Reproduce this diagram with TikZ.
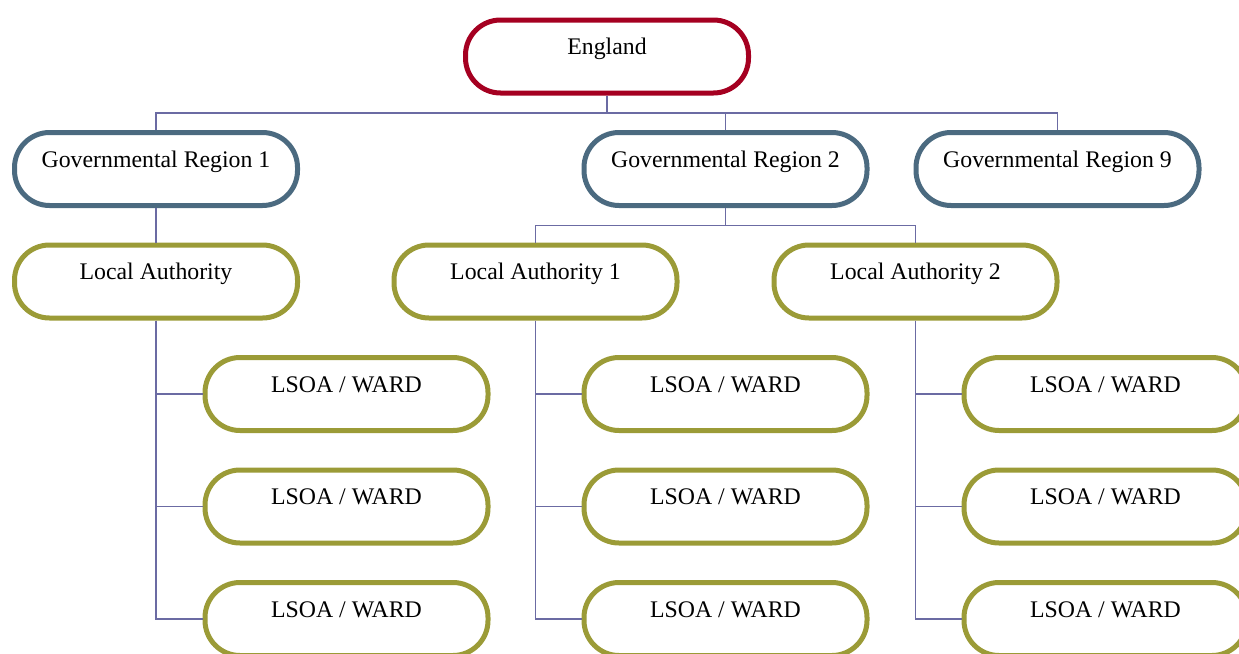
\documentclass[tikz,border=0pt]{standalone}
\usepackage{fontspec}
\setmainfont{Liberation Serif}
\usetikzlibrary{calc}
\definecolor{engred}{HTML}{A50021}
\definecolor{regblue}{HTML}{4B6A80}
\definecolor{laolive}{HTML}{9B9B37}
\definecolor{linkpurple}{HTML}{6B6BA3}

\begin{document}
\begin{tikzpicture}[x=1pt,y=1pt,node distance=112.5pt,
        box/.style={draw,line width=5pt,fill=white,rounded corners=35pt,minimum width=283pt,minimum height=73pt,
            text height=16pt,text depth=20pt,font=\fontsize{23.8}{28}\selectfont},
        nation/.style={box,draw=engred},
        region/.style={box,draw=regblue},
        auth/.style={box,draw=laolive},
        ward/.style={box,draw=laolive},
        link/.style={draw=linkpurple,line width=1.5pt}]
        \useasboundingbox (0,0) rectangle (1239,-653);

        \node[nation] (eng) at (607,-56.5) {England};
        \node[region] (gr1) [below of=eng,xshift=-451pt] {Governmental Region 1};
        \node[region] (gr2) [below of=eng,xshift=118.5pt] {Governmental Region 2};
        \node[region] (gr9) [below of=eng,xshift=450.5pt] {Governmental Region 9};
        \node[auth] (la) [below of=gr1] {Local Authority};
        \node[auth] (la1) [below of=gr2,xshift=-190pt] {Local Authority 1};
        \node[auth] (la2) [below of=gr2,xshift=190pt] {Local Authority 2};
        \node[ward] (w11) [below of=la,xshift=190.5pt] {LSOA / WARD};
        \node[ward] (w12) [below of=w11] {LSOA / WARD};
        \node[ward] (w13) [below of=w12] {LSOA / WARD};
        \node[ward] (w21) [below of=la1,xshift=190pt] {LSOA / WARD};
        \node[ward] (w22) [below of=w21] {LSOA / WARD};
        \node[ward] (w23) [below of=w22] {LSOA / WARD};
        \node[ward] (w31) [below of=la2,xshift=190pt] {LSOA / WARD};
        \node[ward] (w32) [below of=w31] {LSOA / WARD};
        \node[ward] (w33) [below of=w32] {LSOA / WARD};

        \draw[link] (eng.south) -- ($(eng.south)!0.5!(eng.south |- gr2.north)$) coordinate (bus);
        \draw[link] (gr1.north) |- (bus) -| (gr9.north);
        \draw[link] (gr2.north) -- (gr2.north |- bus);
        \draw[link] (gr1.south) -- (la.north);
        \draw[link] (gr2.south) -- ($(gr2.south)!0.5!(gr2.south |- la1.north)$) coordinate (bus2);
        \draw[link] (la1.north) |- (bus2) -| (la2.north);
        \foreach \a/\w in {la/w1,la1/w2,la2/w3}
            \foreach \r in {1,2,3}
                \draw[link] (\a.south) |- (\w\r.west);
\end{tikzpicture}
\end{document}
